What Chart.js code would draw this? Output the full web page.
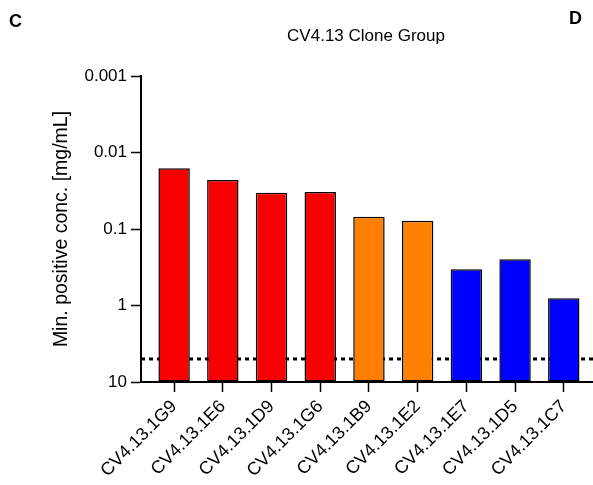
<!DOCTYPE html>
<html>
<head>
<meta charset="utf-8">
<script src="https://cdn.jsdelivr.net/npm/chart.js@4.4.1/dist/chart.umd.min.js"></script>
<style>
  html, body { margin: 0; padding: 0; background: #ffffff; }
  #wrap { width: 593px; height: 485px; position: relative; }
</style>
</head>
<body>
<div id="wrap"><canvas id="chart" width="593" height="485"></canvas></div>
<script>
// Clone names along the x axis
const clones = ['CV4.13.1G9', 'CV4.13.1E6', 'CV4.13.1D9', 'CV4.13.1G6', 'CV4.13.1B9',
                'CV4.13.1E2', 'CV4.13.1E7', 'CV4.13.1D5', 'CV4.13.1C7'];
// Minimum positive concentration per clone, mg/mL
const minPositiveConc = [0.0161, 0.0229, 0.0335, 0.0328, 0.069, 0.078, 0.336, 0.249, 0.805];
// Bar fill per clone
const barColors = ['#f80000', '#f80000', '#f80000', '#f80000', '#ff8000',
                   '#ff8000', '#0000ff', '#0000ff', '#0000ff'];
// Detection threshold, mg/mL
const threshold = 5;
// Y-axis tick values and labels
const yTicks = [0.001, 0.01, 0.1, 1, 10];
const yTickLabels = ['0.001', '0.01', '0.1', '1', '10'];

const FONT = '"Liberation Sans", Arial, Helvetica, sans-serif';
const X_MIN = -0.68, X_MAX = 8.6;

// Panel letters and the group heading
const headerText = {
  id: 'headerText',
  afterDraw(chart) {
    const { ctx } = chart;
    ctx.save();
    ctx.fillStyle = '#000';
    ctx.textBaseline = 'middle';
    ctx.font = 'bold 18px ' + FONT;
    ctx.textAlign = 'left';
    ctx.fillText('C', 9, 22);
    ctx.textAlign = 'right';
    ctx.fillText('D', 582, 19);
    ctx.font = '17px ' + FONT;
    ctx.textAlign = 'center';
    ctx.fillText('CV4.13 Clone Group', 366, 36);
    ctx.restore();
  }
};

new Chart(document.getElementById('chart'), {
  data: {
    datasets: [
      {
        type: 'bar',
        order: 1,
        data: minPositiveConc.map((v, i) => ({ x: i, y: v })),
        base: 10,
        backgroundColor: barColors,
        borderColor: '#000',
        borderWidth: 1.5,
        borderSkipped: false,
        barPercentage: 0.645,
        categoryPercentage: 1
      },
      {
        type: 'line',
        order: 2,
        data: [{ x: X_MIN, y: threshold }, { x: X_MAX, y: threshold }],
        borderColor: '#000',
        borderWidth: 3,
        borderDash: [4, 4],
        pointRadius: 0,
        fill: false
      }
    ]
  },
  options: {
    responsive: false,
    animation: false,
    devicePixelRatio: 1,
    layout: { padding: { top: 76, right: 0, bottom: 0, left: 0 } },
    plugins: { legend: { display: false }, tooltip: { enabled: false } },
    scales: {
      x: {
        type: 'linear',
        offset: false,
        min: X_MIN,
        max: X_MAX,
        afterBuildTicks: s => { s.ticks = clones.map((_, i) => ({ value: i })); },
        afterFit: s => { s.height = 103; s.paddingLeft = 0; s.paddingRight = 0; },
        grid: { display: true, offset: false, drawOnChartArea: false, drawTicks: true, tickLength: 10, tickWidth: 1.5, tickColor: '#000' },
        border: { color: '#000', width: 2 },
        ticks: {
          color: '#000',
          font: { family: FONT, size: 18 },
          minRotation: 45,
          maxRotation: 45,
          padding: 4,
          callback: v => clones[v]
        }
      },
      y: {
        type: 'logarithmic',
        reverse: true,
        min: 0.001,
        max: 10,
        afterBuildTicks: s => { s.ticks = yTicks.map(v => ({ value: v })); },
        afterFit: s => { s.width = 141; s.paddingTop = 0; s.paddingBottom = 0; },
        grid: { display: true, drawOnChartArea: false, drawTicks: true, tickLength: 10, tickWidth: 1.5, tickColor: '#000' },
        border: { color: '#000', width: 2 },
        title: {
          display: true,
          text: 'Min. positive conc. [mg/mL]',
          color: '#000',
          font: { family: FONT, size: 19.5 },
          padding: { top: 50, bottom: 0 }
        },
        ticks: {
          color: '#000',
          font: { family: FONT, size: 17 },
          padding: 4,
          callback: (v) => {
            const k = yTicks.indexOf(v);
            return k >= 0 ? yTickLabels[k] : null;
          }
        }
      }
    }
  },
  plugins: [headerText]
});
</script>
</body>
</html>
